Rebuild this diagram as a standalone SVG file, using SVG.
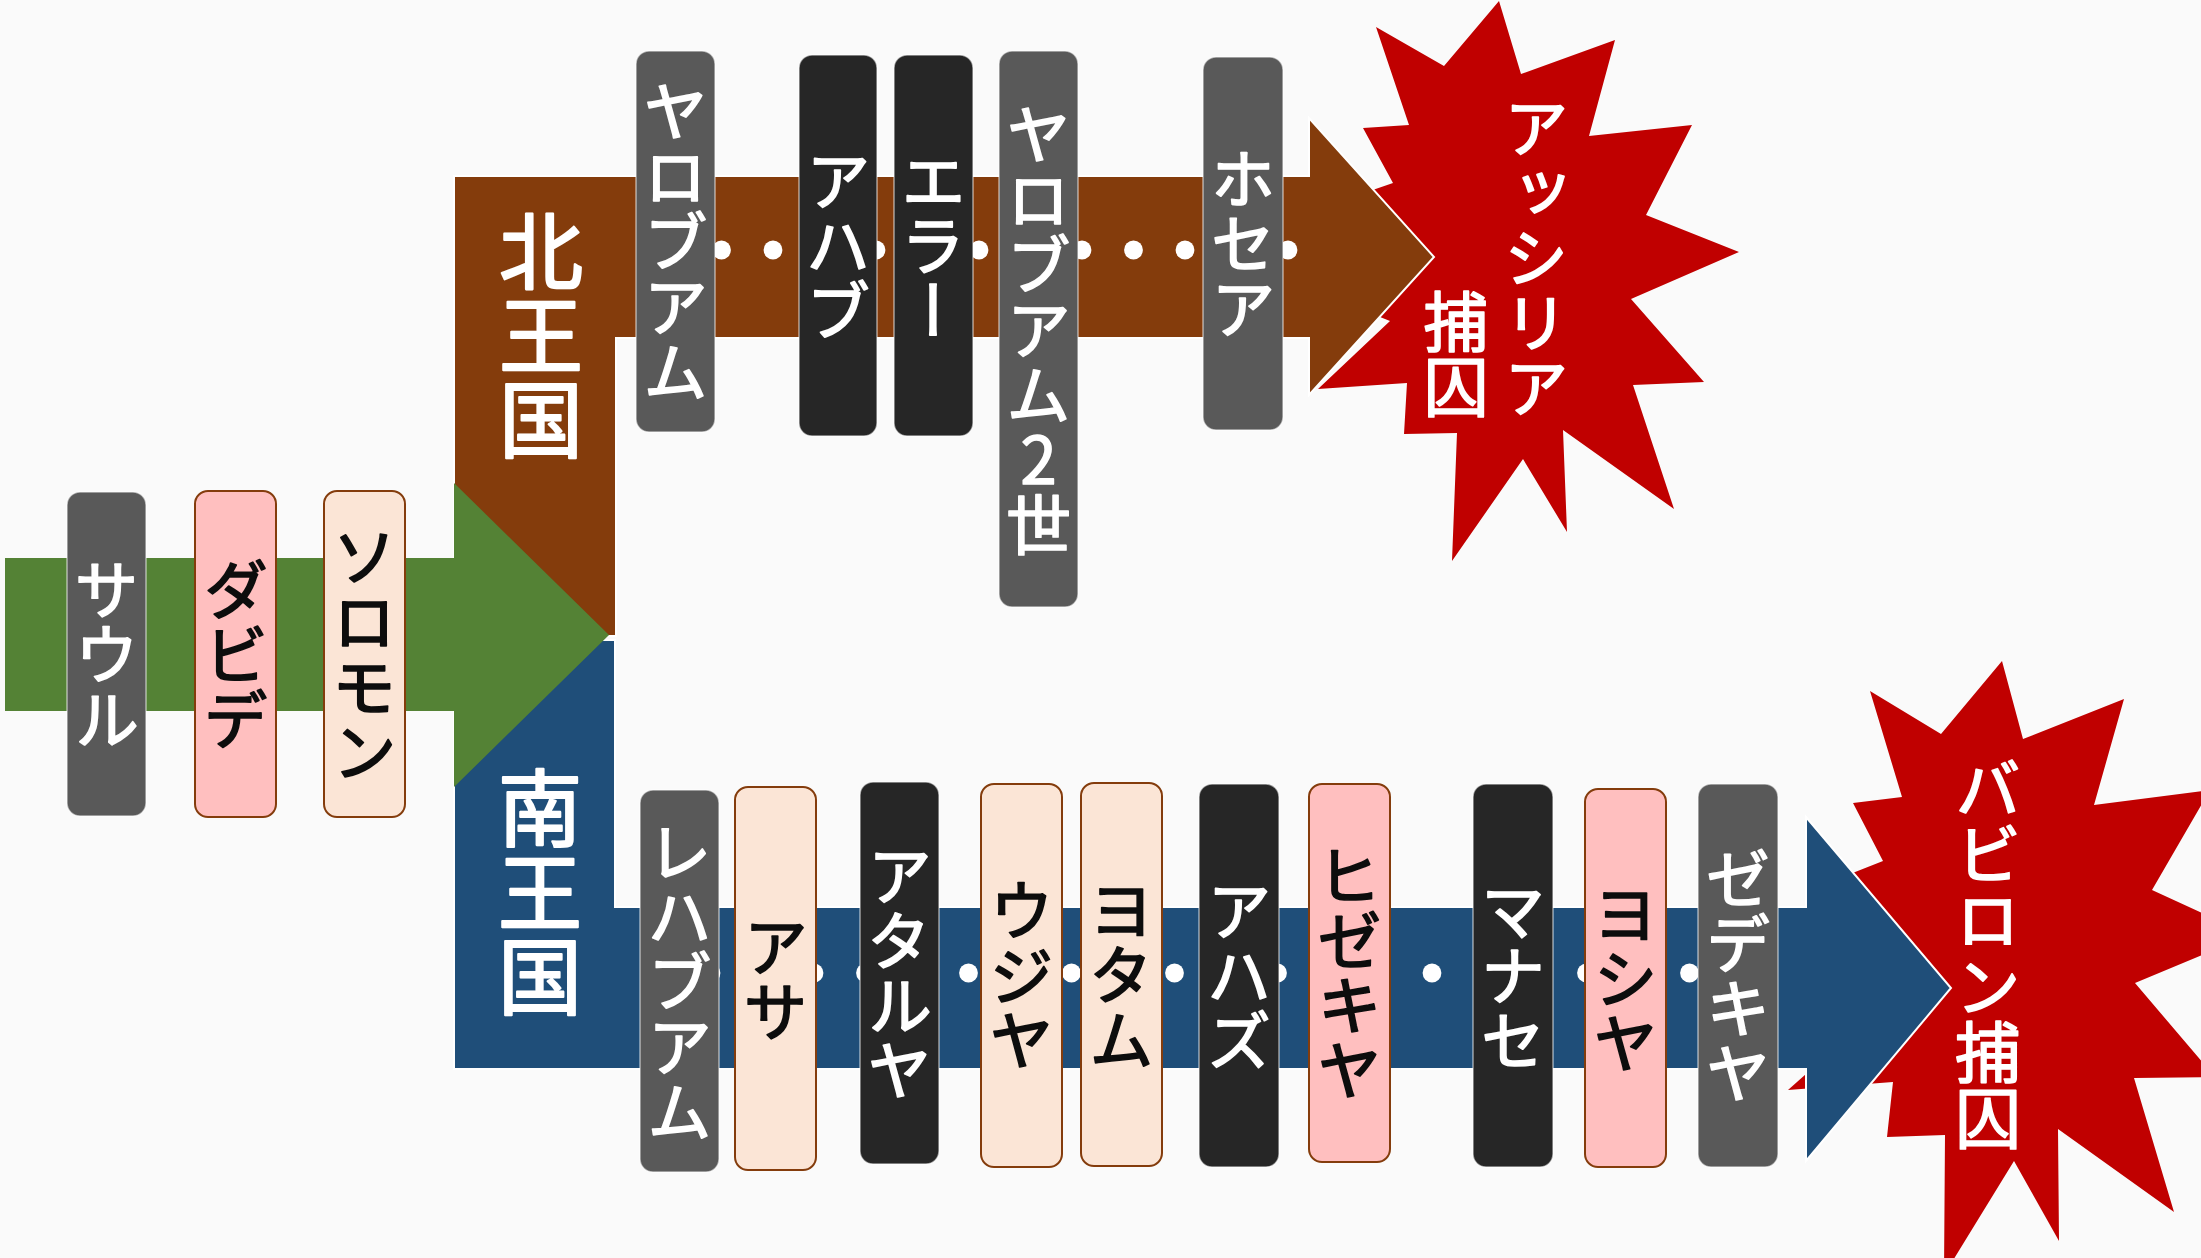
<svg xmlns="http://www.w3.org/2000/svg" width="2201" height="1258" viewBox="0 0 2201 1258">
<defs>
<style>
.t{font-family:"Noto Sans CJK JP","Noto Sans",sans-serif;writing-mode:vertical-rl;text-orientation:upright;text-anchor:middle;font-size:65px;stroke-width:1.7px;stroke-linejoin:round}
.big{font-size:84px;stroke-width:2.2px}
.w{fill:#ffffff;stroke:#ffffff}
.k{fill:#0d0d0d;stroke:#0d0d0d}
.gray{fill:#595959;stroke:#ffffff;stroke-opacity:0.55;stroke-width:1.5}
.dark{fill:#262626;stroke:#ffffff;stroke-opacity:0.55;stroke-width:1.5}
.pink{fill:#ffbfbf;stroke:#843c0c;stroke-width:2}
.peach{fill:#fbe5d6;stroke:#843c0c;stroke-width:2}
.star{fill:#c00000}
.dot{fill:#ffffff}
</style>
</defs>
<rect x="0" y="0" width="2201" height="1258" fill="#fafafa"/>

<g id="star-assyria">
<polygon class="star" points="1499,1 1521,74 1615,40 1589,136 1692,125 1646,215 1739,252 1631,299 1704,382 1633,385 1674,509 1563,430 1567,532 1523,459 1452,561 1457,433 1404,434 1407,383 1318,389 1390,321 1300,285 1360,250 1300,215 1393,183 1363,128 1409,125 1376,27 1444,66"/>
<text class="t w" x="1536" y="257">アッシリア</text>
<text class="t w" x="1456" y="354">捕囚</text>
</g>

<g id="star-babylon">
<polygon class="star" points="2002,661 2023,739 2124,699 2094,805 2210,790 2152,890 2250,935 2135,983 2215,1077 2134,1078 2174,1212 2058,1129 2059,1241 2014,1161 1944,1275 1945,1135 1887,1137 1893,1082 1788,1090 1878,1010 1782,971 1846,933 1812,889 1883,861 1853,803 1902,797 1870,691 1941,734"/>
<text class="t w" x="1988" y="953" style="font-size:66px">バビロン捕囚</text>
</g>

<g id="connectors">
<g id="arrow-north">
<polygon points="454,176 1309,176 1309,118 1434,257 1309,395 1309,338 616,338 616,636 454,636" fill="#843c0c" stroke="#ffffff" stroke-width="2" stroke-linejoin="miter"/>
<g class="dot">
<circle cx="670" cy="250" r="9.4"/><circle cx="721.5" cy="250" r="9.4"/><circle cx="773" cy="250" r="9.4"/><circle cx="824.5" cy="250" r="9.4"/><circle cx="876" cy="250" r="9.4"/><circle cx="927.5" cy="250" r="9.4"/><circle cx="979" cy="250" r="9.4"/><circle cx="1030.5" cy="250" r="9.4"/><circle cx="1082" cy="250" r="9.4"/><circle cx="1133.5" cy="250" r="9.4"/><circle cx="1185" cy="250" r="9.4"/><circle cx="1236.5" cy="250" r="9.4"/><circle cx="1288" cy="250" r="9.4"/>
</g>
</g>
<g id="arrow-south">
<polygon points="454,640 615,640 615,907 1806,907 1806,817 1951,988 1806,1161 1806,1069 454,1069" fill="#1f4e79" stroke="#ffffff" stroke-width="2" stroke-linejoin="miter"/>
<g class="dot">
<circle cx="659.5" cy="973" r="9.4"/><circle cx="711" cy="973" r="9.4"/><circle cx="762.5" cy="973" r="9.4"/><circle cx="814" cy="973" r="9.4"/><circle cx="865.5" cy="973" r="9.4"/><circle cx="917" cy="973" r="9.4"/><circle cx="968.5" cy="973" r="9.4"/><circle cx="1020" cy="973" r="9.4"/><circle cx="1071.5" cy="973" r="9.4"/><circle cx="1123" cy="973" r="9.4"/><circle cx="1174.5" cy="973" r="9.4"/><circle cx="1226" cy="973" r="9.4"/><circle cx="1277.5" cy="973" r="9.4"/><circle cx="1329" cy="973" r="9.4"/><circle cx="1380.5" cy="973" r="9.4"/><circle cx="1432" cy="973" r="9.4"/><circle cx="1483.5" cy="973" r="9.4"/><circle cx="1535" cy="973" r="9.4"/><circle cx="1586.5" cy="973" r="9.4"/><circle cx="1638" cy="973" r="9.4"/><circle cx="1689.5" cy="973" r="9.4"/>
</g>
</g>
<g id="arrow-united">
<polygon points="5,558 454,558 454,483 609,635 454,787 454,711 5,711" fill="#548235"/>
</g>
</g>

<g id="label-north"><text class="t big w" x="541" y="335">北王国</text></g>
<g id="label-south"><text class="t big w" x="540" y="892">南王国</text></g>

<g id="node-saul"><rect class="gray" x="67" y="492" width="79" height="324" rx="13"/><text class="t w" x="106.5" y="654">サウル</text></g>
<g id="node-david"><rect class="pink" x="195" y="491" width="81" height="326" rx="13"/><text class="t k" x="235.5" y="654">ダビデ</text></g>
<g id="node-solomon"><rect class="peach" x="324" y="491" width="81" height="326" rx="13"/><text class="t k" x="364.5" y="654">ソロモン</text></g>

<g id="node-jeroboam"><rect class="gray" x="636" y="51" width="79" height="381" rx="13"/><text class="t w" x="675.5" y="241.5">ヤロブアム</text></g>
<g id="node-ahab"><rect class="dark" x="799" y="55" width="78" height="381" rx="13"/><text class="t w" x="838" y="245.5">アハブ</text></g>
<g id="node-elah"><rect class="dark" x="894" y="55" width="79" height="381" rx="13"/><text class="t w" x="933.5" y="245.5">エラー</text></g>
<g id="node-jeroboam2"><rect class="gray" x="999" y="51" width="79" height="556" rx="13"/><text class="t w" x="1038.5" y="329">ヤロブアム2世</text></g>
<g id="node-hosea"><rect class="gray" x="1203" y="57" width="80" height="373" rx="13"/><text class="t w" x="1243" y="243.5">ホセア</text></g>

<g id="node-rehoboam"><rect class="gray" x="640" y="790" width="79" height="382" rx="13"/><text class="t w" x="679.5" y="981">レハブアム</text></g>
<g id="node-asa"><rect class="peach" x="735" y="787" width="81" height="383" rx="13"/><text class="t k" x="775.5" y="978.5">アサ</text></g>
<g id="node-athaliah"><rect class="dark" x="860" y="782" width="79" height="382" rx="13"/><text class="t w" x="899.5" y="973">アタルヤ</text></g>
<g id="node-uzziah"><rect class="peach" x="981" y="784" width="81" height="383" rx="13"/><text class="t k" x="1021.5" y="975.5">ウジヤ</text></g>
<g id="node-jotham"><rect class="peach" x="1081" y="783" width="81" height="383" rx="13"/><text class="t k" x="1121.5" y="974.5">ヨタム</text></g>
<g id="node-ahaz"><rect class="dark" x="1199" y="784" width="80" height="383" rx="13"/><text class="t w" x="1239" y="975.5">アハズ</text></g>
<g id="node-hezekiah"><rect class="pink" x="1309" y="784" width="81" height="378" rx="13"/><text class="t k" x="1349.5" y="973">ヒゼキヤ</text></g>
<g id="node-manasseh"><rect class="dark" x="1473" y="784" width="80" height="383" rx="13"/><text class="t w" x="1513" y="975.5">マナセ</text></g>
<g id="node-josiah"><rect class="pink" x="1585" y="789" width="81" height="378" rx="13"/><text class="t k" x="1625.5" y="978">ヨシヤ</text></g>
<g id="node-zedekiah"><rect class="gray" x="1698" y="784" width="80" height="383" rx="13"/><text class="t w" x="1738" y="975.5">ゼデキヤ</text></g>
</svg>
